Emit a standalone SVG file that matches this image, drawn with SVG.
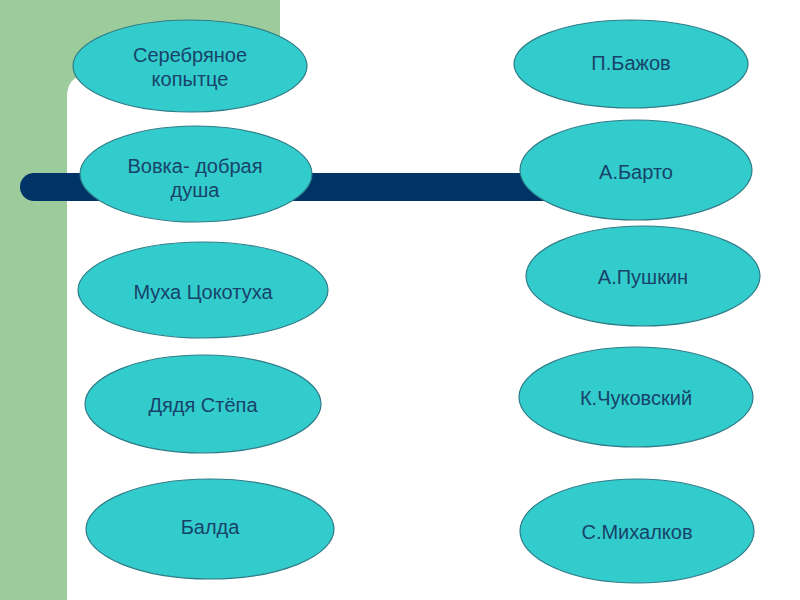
<svg xmlns="http://www.w3.org/2000/svg" width="800" height="600" viewBox="0 0 800 600">
<style>
.n ellipse{fill:#33CCCC;stroke:#2e7c88;stroke-width:1.2}
.n text{font-family:"Liberation Sans",Arial,sans-serif;font-size:20px;fill:#17436a;text-anchor:middle}
</style>
<rect x="0" y="0" width="800" height="600" fill="#ffffff"/>
<rect x="0" y="0" width="280" height="600" fill="#9ccc9c"/>
<path d="M67,600 L67,97 Q67,75 89,75 L280,75 L280,600 Z" fill="#ffffff"/>
<g id="connectors">
<rect x="20" y="173" width="560" height="28" rx="14" ry="14" fill="#003366"/>
</g>
<g id="n1" class="n"><ellipse cx="190" cy="66" rx="117" ry="46"/><text x="190" y="62">Серебряное</text><text x="190" y="86">копытце</text></g>
<g id="n2" class="n"><ellipse cx="196" cy="174" rx="116" ry="48"/><text x="195" y="173">Вовка- добрая</text><text x="195" y="197">душа</text></g>
<g id="n3" class="n"><ellipse cx="203" cy="290" rx="125" ry="48"/><text x="203" y="299">Муха Цокотуха</text></g>
<g id="n4" class="n"><ellipse cx="203" cy="404" rx="118" ry="49"/><text x="203" y="412">Дядя Стёпа</text></g>
<g id="n5" class="n"><ellipse cx="210" cy="529" rx="124" ry="50"/><text x="210" y="534">Балда</text></g>
<g id="n6" class="n"><ellipse cx="631" cy="64" rx="117" ry="44"/><text x="631" y="70">П.Бажов</text></g>
<g id="n7" class="n"><ellipse cx="636" cy="170" rx="116" ry="50"/><text x="636" y="179">А.Барто</text></g>
<g id="n8" class="n"><ellipse cx="643" cy="276" rx="117" ry="50"/><text x="643" y="284">А.Пушкин</text></g>
<g id="n9" class="n"><ellipse cx="636" cy="397" rx="117" ry="50"/><text x="636" y="405">К.Чуковский</text></g>
<g id="n10" class="n"><ellipse cx="637" cy="531" rx="117" ry="52"/><text x="637" y="539">С.Михалков</text></g>
</svg>
